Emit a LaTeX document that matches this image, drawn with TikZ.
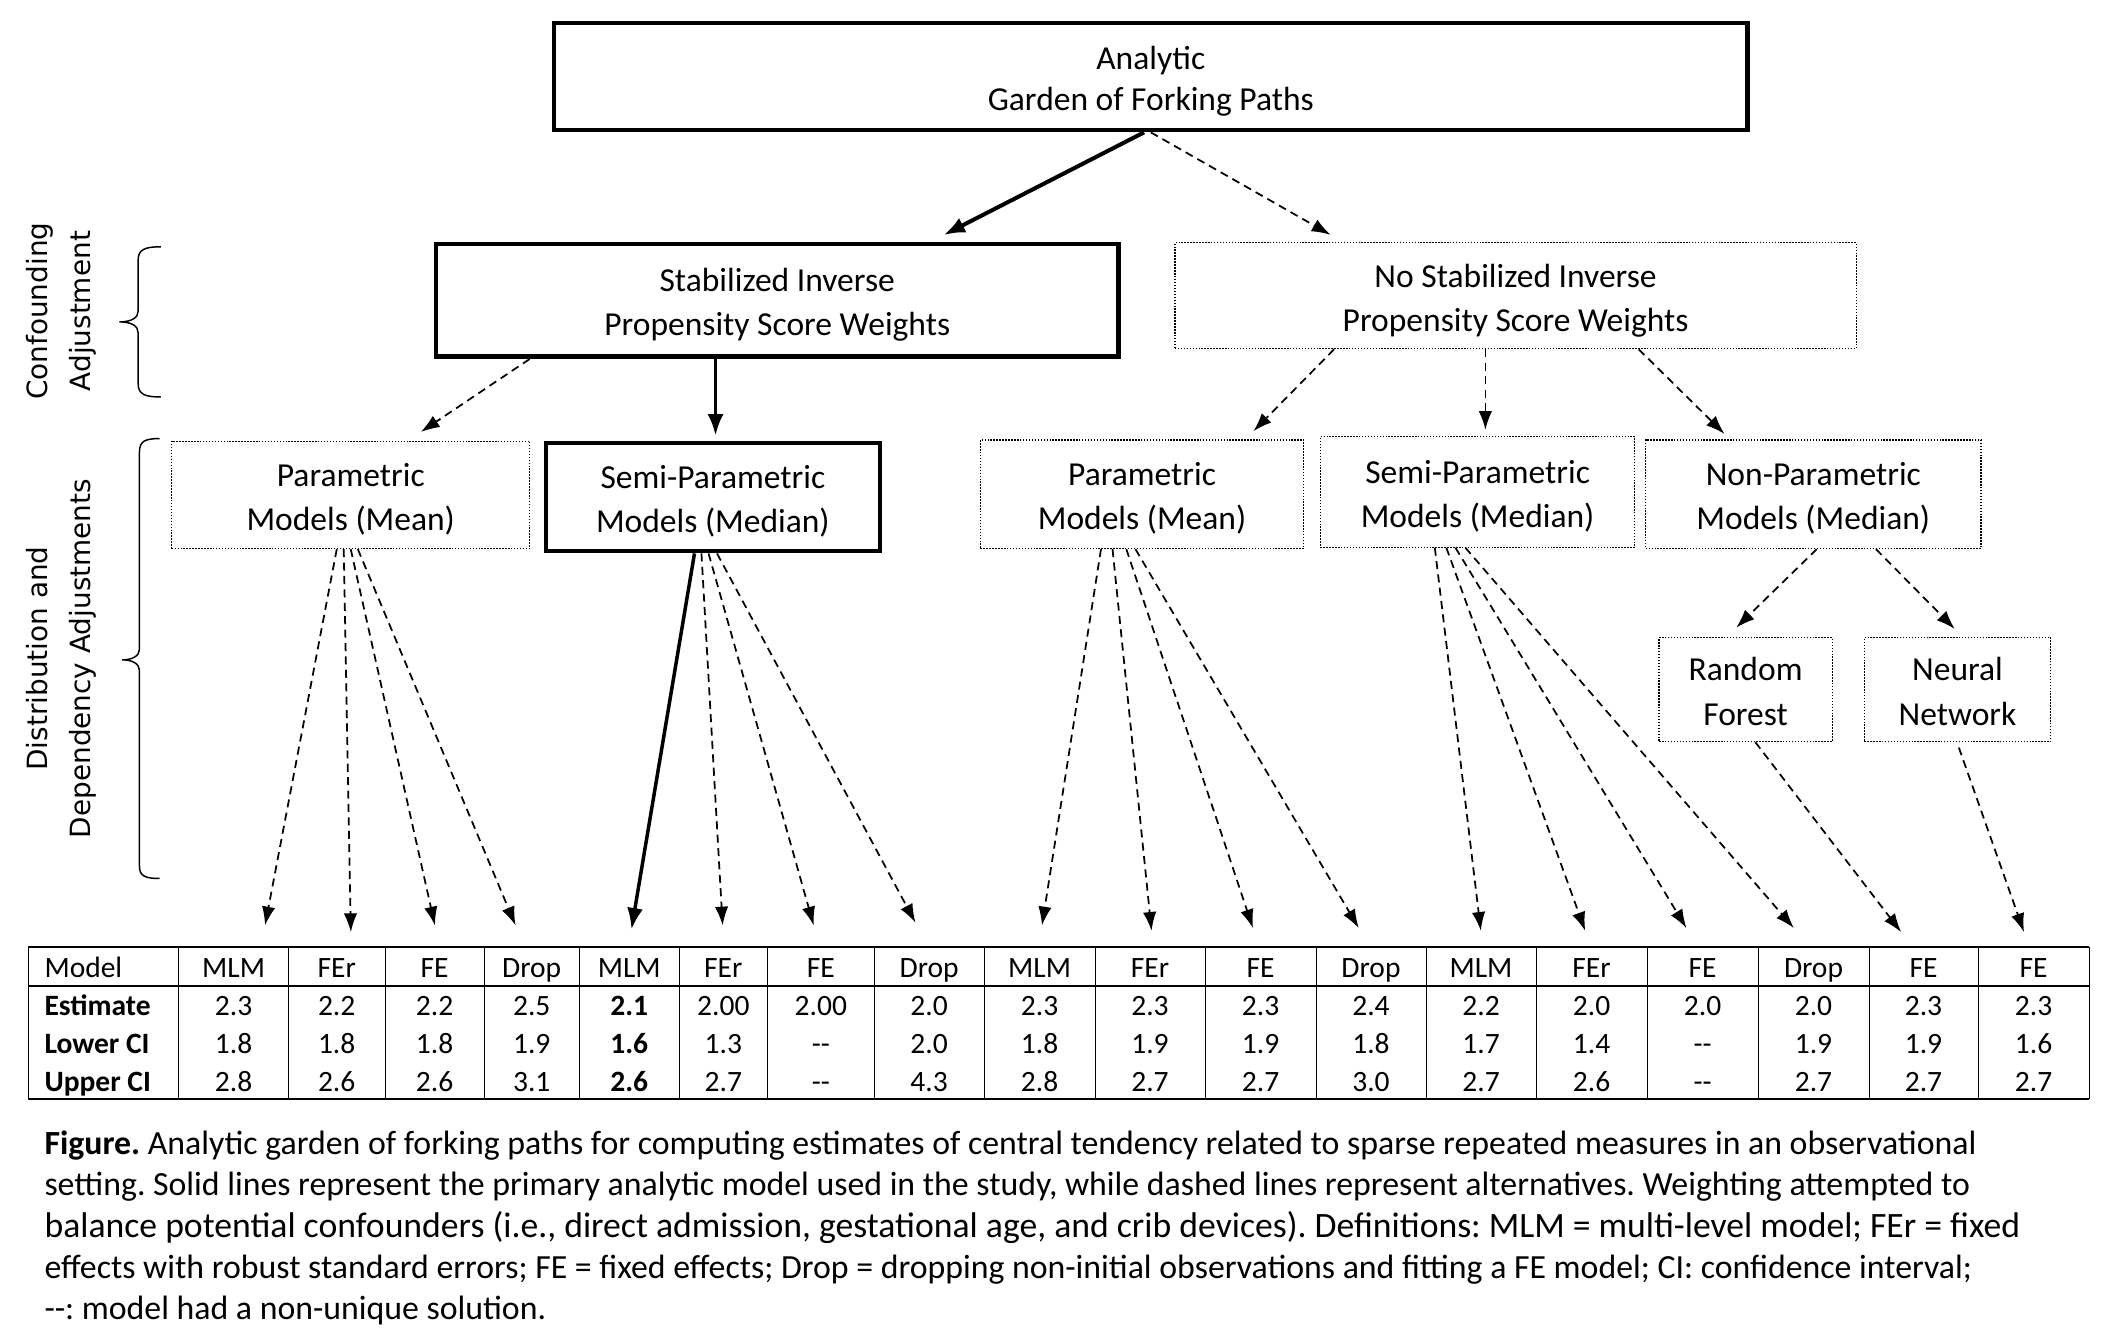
\documentclass[tikz,border=0pt]{standalone}
\usepackage{fontspec}
\setmainfont{Carlito}
\newfontfamily\rotfont{DejaVu Sans}
\usetikzlibrary{arrows.meta}
\newcommand\bxtop{\rule{0pt}{27pt}}
\newcommand\bxbot{\rule[-7pt]{0pt}{0pt}}
\frenchspacing
\begin{document}
\begin{tikzpicture}[x=1pt,y=-1pt,
  boxfont/.style={font=\fontsize{25}{33}\selectfont},
  thickbox/.style={draw, line width=3.4pt, inner sep=0pt, align=center, boxfont},
  dotbox/.style={draw, line width=0.9pt, dash pattern=on 1.1pt off 1.1pt, inner sep=0pt, align=center, boxfont},
  dasharrow/.style={line width=1.3pt, dash pattern=on 6pt off 4pt, -{Latex[length=14pt,width=10pt]}},
  solidarrow/.style={line width=3pt, -{Latex[length=16pt,width=12pt]}},
  tabtxt/.style={font=\fontsize{22}{26}\selectfont, anchor=base, inner sep=0pt},
  captxt/.style={font=\fontsize{25.2}{31}\selectfont, anchor=base west, inner sep=0pt},
  rotlabel/.style={rotate=90, align=center, inner sep=0pt, font=\rotfont\fontsize{20.8}{32}\selectfont},
  brace/.style={line width=1.1pt}
  ]
\useasboundingbox (0,0) rectangle (1568,1000);

% ---- boxes ----
\node[thickbox, minimum width=890pt, minimum height=80pt, font=\fontsize{25}{31}\selectfont] (top) at (858,57) {\bxtop Analytic\\Garden of Forking Paths\bxbot};
\node[thickbox, minimum width=509pt, minimum height=84pt] (stab) at (579.5,224) {\bxtop Stabilized Inverse\\Propensity Score Weights\bxbot};
\node[dotbox, minimum width=508pt, minimum height=79pt] (nostab) at (1130,220.5) {\bxtop No Stabilized Inverse\\Propensity Score Weights\bxbot};

\node[dotbox, minimum width=267pt, minimum height=80pt] (paramL) at (261.5,369) {\bxtop Parametric\\Models (Mean)\bxbot};
\node[thickbox, minimum width=249pt, minimum height=80.5pt] (semiL) at (531.5,370.7) {\bxtop Semi-Parametric\\Models (Median)\bxbot};
\node[dotbox, minimum width=241pt, minimum height=81pt] (paramR) at (851.5,368.5) {\bxtop Parametric\\Models (Mean)\bxbot};
\node[dotbox, minimum width=234.5pt, minimum height=82.3pt] (semiR) at (1101.7,366.8) {\bxtop Semi-Parametric\\Models (Median)\bxbot};
\node[dotbox, minimum width=250pt, minimum height=81pt] (nonpar) at (1352,368.5) {\bxtop Non-Parametric\\Models (Median)\bxbot};
\node[dotbox, minimum width=129pt, minimum height=77.5pt] (rf) at (1301.5,514.2) {\bxtop Random\\Forest\bxbot};
\node[dotbox, minimum width=139pt, minimum height=77.5pt] (nn) at (1459.5,514.2) {\bxtop Neural\\Network\bxbot};

% ---- side labels and braces ----
\node[rotlabel] (lab1) at (46,232) {Confounding\\Adjustment};
\node[rotlabel] (lab2) at (46,491) {Distribution and\\Dependency Adjustments};
\draw[brace] (120,184) .. controls (108,184) and (103,186) .. (103,194) -- (103,232)
  .. controls (103,237) and (98,240) .. (89,240) .. controls (98,240) and (103,243) .. (103,248)
  -- (103,286) .. controls (103,294) and (108,296) .. (120,296);
\draw[brace] (119,327) .. controls (108,327) and (104,329) .. (104,337) -- (104,484)
  .. controls (104,489) and (99,492) .. (91,492) .. controls (99,492) and (104,495) .. (104,500)
  -- (104,646) .. controls (104,653) and (108,655) .. (119,655);

% ---- arrow targets above table ----
\coordinate (t1) at (197.6,690);
\coordinate (t2) at (261.6,695);
\coordinate (t3) at (324.3,690);
\coordinate (t4) at (384.4,690);
\coordinate (t5) at (470.8,693);
\coordinate (t6) at (538.8,690);
\coordinate (t7) at (606.7,690);
\coordinate (t8) at (682.6,688);
\coordinate (t9) at (776.9,690);
\coordinate (t10) at (858.6,694);
\coordinate (t11) at (934.2,692);
\coordinate (t12) at (1013.1,692);
\coordinate (t13) at (1104.1,694);
\coordinate (t14) at (1181.9,694);
\coordinate (t15) at (1257.4,692);
\coordinate (t16) at (1337.5,692);
\coordinate (t17) at (1417.5,695);
\coordinate (t18) at (1509.1,695);

% ---- connectors ----
\draw[solidarrow] ([xshift=-5pt]top.south) -- ([xshift=124pt,yshift=5pt]stab.north);
\draw[dasharrow] ([xshift=0pt]top.south) -- ([xshift=-138pt,yshift=5.5pt]nostab.north);

\draw[dasharrow] ([xshift=-184.6pt]stab.south) -- ([xshift=52.3pt,yshift=6.5pt]paramL.north);
\draw[solidarrow, line width=2.6pt] ([xshift=-46pt]stab.south) -- ([xshift=2pt,yshift=4pt]semiL.north);

\draw[dasharrow] ([xshift=-135.3pt]nostab.south) -- ([xshift=83pt,yshift=6pt]paramR.north);
\draw[dasharrow] ([xshift=-22.5pt]nostab.south) -- ([xshift=5.8pt,yshift=4.7pt]semiR.north);
\draw[dasharrow] ([xshift=91.8pt]nostab.south) -- ([xshift=-66.2pt,yshift=4pt]nonpar.north);

\draw[dasharrow] ([xshift=2.6pt]nonpar.south) -- ([xshift=-7pt,yshift=7pt]rf.north);
\draw[dasharrow] ([xshift=46.7pt]nonpar.south) -- ([xshift=-2pt,yshift=6pt]nn.north);
\draw[dasharrow] ([xshift=7.3pt]rf.south) -- (t17);
\draw[dasharrow] ([xshift=1pt,yshift=-4pt]nn.south) -- (t18);

\draw[dasharrow] ([xshift=-10.4pt]paramL.south) -- (t1);
\draw[dasharrow] ([xshift=-5.2pt]paramL.south) -- (t2);
\draw[dasharrow] ([xshift=0pt]paramL.south) -- (t3);
\draw[dasharrow] ([xshift=5.3pt]paramL.south) -- (t4);

\draw[solidarrow, line width=2.6pt] ([xshift=-13.7pt]semiL.south) -- (t5);
\draw[dasharrow] ([xshift=-8.5pt]semiL.south) -- (t6);
\draw[dasharrow] ([xshift=-3.2pt]semiL.south) -- (t7);
\draw[dasharrow] ([xshift=3.1pt]semiL.south) -- (t8);

\draw[dasharrow] ([xshift=-30.6pt]paramR.south) -- (t9);
\draw[dasharrow] ([xshift=-22pt]paramR.south) -- (t10);
\draw[dasharrow] ([xshift=-11.7pt]paramR.south) -- (t11);
\draw[dasharrow] ([xshift=-4.9pt]paramR.south) -- (t12);

\draw[dasharrow] ([xshift=-31.9pt]semiR.south) -- (t13);
\draw[dasharrow] ([xshift=-23.3pt]semiR.south) -- (t14);
\draw[dasharrow] ([xshift=-16.5pt]semiR.south) -- (t15);
\draw[dasharrow] ([xshift=-9.1pt]semiR.south) -- (t16);

% ---- table ----
\draw[line width=1.5pt] (20.9,705.9) -- (1557.6,705.9);
\draw[line width=1.5pt] (20.9,735.2) -- (1557.6,735.2);
\draw[line width=1.2pt] (20.9,819.6) -- (1557.6,819.6);
\foreach \x in {20.9,133.4,215,287.1,360.9,432,506.3,572.3,651.7,733.8,816.4,898.5,981.2,1063.2,1145.3,1228,1310.8,1393.5,1474.8,1557.6}
  \draw[line width=0.7pt] (\x,705.9) -- (\x,819.6);

\node[tabtxt, anchor=base west] (rmodel) at (33,729) {Model};
\node[tabtxt, anchor=base west] (rest) at (33,757) {\textbf{Estimate}};
\node[tabtxt, anchor=base west] (rlow) at (33,785.5) {\textbf{Lower CI}};
\node[tabtxt, anchor=base west] (rup) at (33,813.5) {\textbf{Upper CI}};

\foreach \x/\h/\e/\l/\u [count=\i] in {
  174.2/MLM/2.3/1.8/2.8,
  251.05/FEr/2.2/1.8/2.6,
  324/FE/2.2/1.8/2.6,
  396.45/Drop/2.5/1.9/3.1,
  469.15/MLM/\textbf{2.1}/\textbf{1.6}/\textbf{2.6},
  539.3/FEr/2.00/1.3/2.7,
  612/FE/2.00/-{}-/-{}-,
  692.75/Drop/2.0/2.0/4.3,
  775.1/MLM/2.3/1.8/2.8,
  857.45/FEr/2.3/1.9/2.7,
  939.85/FE/2.3/1.9/2.7,
  1022.2/Drop/2.4/1.8/3.0,
  1104.25/MLM/2.2/1.7/2.7,
  1186.65/FEr/2.0/1.4/2.6,
  1269.4/FE/2.0/-{}-/-{}-,
  1352.15/Drop/2.0/1.9/2.7,
  1434.15/FE/2.3/1.9/2.7,
  1516.2/FE/2.3/1.6/2.7}
{
  \node[tabtxt] (h\i) at (\x,729) {\h};
  \node[tabtxt] (e\i) at (\x,757) {\e};
  \node[tabtxt] (l\i) at (\x,785.5) {\l};
  \node[tabtxt] (u\i) at (\x,813.5) {\u};
}

% ---- caption ----
\node[captxt] (cap1) at (33,860.5) {\textbf{Figure.} Analytic garden of forking paths for computing estimates of central tendency related to sparse repeated measures in an observational};
\node[captxt] (cap2) at (33,891.5) {setting. Solid lines represent the primary analytic model used in the study, while dashed lines represent alternatives. Weighting attempted to};
\node[captxt, font=\fontsize{26.6}{31}\selectfont] (cap3) at (33,922.5) {balance potential confounders (i.e., direct admission, gestational age, and crib devices). Definitions: MLM = multi-level model; FEr = fixed};
\node[captxt] (cap4) at (33,953) {effects with robust standard errors; FE = fixed effects; Drop = dropping non-initial observations and fitting a FE model; CI: confidence interval;};
\node[captxt] (cap5) at (33,984) {-{}-: model had a non-unique solution.};
\end{tikzpicture}
\end{document}
